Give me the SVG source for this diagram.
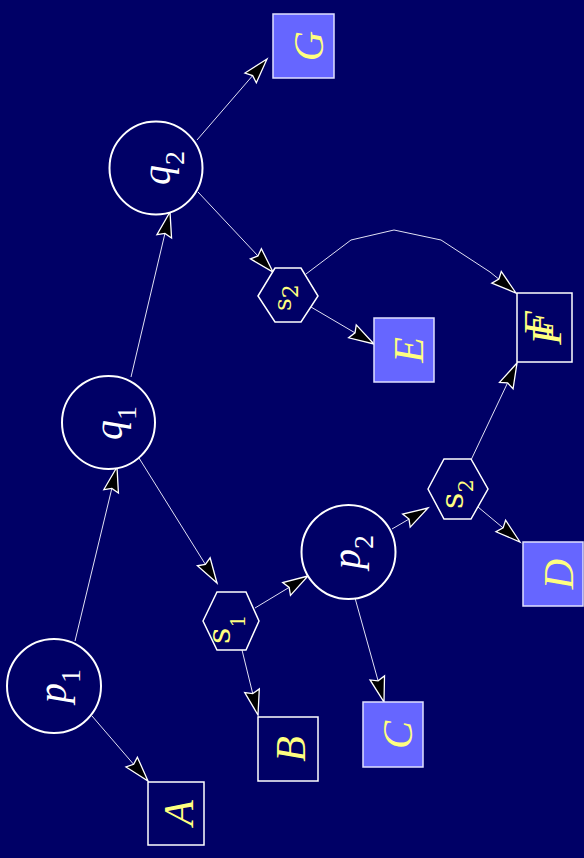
<svg xmlns="http://www.w3.org/2000/svg" width="584" height="858" viewBox="0 0 584 858">
<style>
.bg{fill:#000066}
.edge{fill:none;stroke:#e0e0f4;stroke-width:1}
.circ{fill:#000066;stroke:#ffffff;stroke-width:2}
.hex{fill:#000066;stroke:#ffffff;stroke-width:1.5}
.box{fill:#000066;stroke:#ffffff;stroke-width:1.5}
.boxf{fill:#6666ff;stroke:#e0e0ff;stroke-width:1.5}
.lab{font-family:"Liberation Serif",serif;font-style:italic;font-size:42px;fill:#ffff80;text-anchor:middle}
.math{font-family:"Liberation Serif",serif;font-size:40px;fill:#ffffff;text-anchor:middle}
.math .v{font-style:italic}
.sl{font-family:"DejaVu Serif",serif;fill:#ffff80}
</style>
<defs>
<marker id="ah" markerUnits="userSpaceOnUse" orient="auto" markerWidth="40" markerHeight="30" refX="30" refY="15" overflow="visible">
<path d="M30,15 L5,7.5 L8,15 L5,22.5 Z" fill="#000000" stroke="#ffffff" stroke-width="1.3" stroke-linejoin="miter"/>
</marker>
</defs>
<rect class="bg" x="0" y="0" width="584" height="858"/>

<g id="connectors">
<line class="edge" x1="92" y1="716" x2="148" y2="781" marker-end="url(#ah)"/>
<line class="edge" x1="75" y1="641" x2="117" y2="467" marker-end="url(#ah)"/>
<line class="edge" x1="131" y1="377" x2="170" y2="212" marker-end="url(#ah)"/>
<line class="edge" x1="197" y1="140" x2="267" y2="59" marker-end="url(#ah)"/>
<line class="edge" x1="198" y1="192" x2="273" y2="272" marker-end="url(#ah)"/>
<line class="edge" x1="311" y1="307" x2="374" y2="344" marker-end="url(#ah)"/>
<polyline class="edge" points="306,274 351,240 394,230 441,240 490,272 516,293" marker-end="url(#ah)"/>
<line class="edge" x1="139" y1="458" x2="217" y2="583" marker-end="url(#ah)"/>
<line class="edge" x1="255" y1="608" x2="308" y2="576" marker-end="url(#ah)"/>
<line class="edge" x1="242" y1="650" x2="258" y2="715" marker-end="url(#ah)"/>
<line class="edge" x1="355" y1="598" x2="384" y2="702" marker-end="url(#ah)"/>
<line class="edge" x1="392" y1="529" x2="428" y2="508" marker-end="url(#ah)"/>
<line class="edge" x1="478" y1="507" x2="520" y2="542" marker-end="url(#ah)"/>
<line class="edge" x1="471" y1="460" x2="517" y2="363" marker-end="url(#ah)"/>
</g>

<g id="p1">
<circle class="circ" cx="54" cy="686" r="47"/>
<text class="math" transform="translate(66,686) rotate(-90)"><tspan class="v">p</tspan><tspan font-size="28" dy="14">1</tspan></text>
</g>
<g id="q1">
<circle class="circ" cx="108.5" cy="422.5" r="46.5"/>
<text class="math" transform="translate(122,423) rotate(-90)"><tspan class="v">q</tspan><tspan font-size="28" dy="14">1</tspan></text>
</g>
<g id="q2">
<circle class="circ" cx="156" cy="168" r="46.5"/>
<text class="math" transform="translate(170,168) rotate(-90)"><tspan class="v">q</tspan><tspan font-size="28" dy="14">2</tspan></text>
</g>
<g id="p2">
<circle class="circ" cx="348.5" cy="552" r="47"/>
<text class="math" transform="translate(360,552) rotate(-90)"><tspan class="v">p</tspan><tspan font-size="28" dy="13">2</tspan></text>
</g>

<g id="s1">
<polygon class="hex" points="203,621 217,592 246,592 259,621 246,650 217,650"/>
<text class="sl" transform="translate(230,644) rotate(-90)"><tspan font-size="32">s</tspan><tspan font-size="20" dy="15">1</tspan></text>
</g>
<g id="s2a">
<polygon class="hex" points="258,296 275,268 301,268 318,296 301,322 275,322"/>
<text class="sl" transform="translate(291,311) rotate(-90)"><tspan font-size="25">s</tspan><tspan font-size="22" dy="7">2</tspan></text>
</g>
<g id="s2b">
<polygon class="hex" points="428,489 444,459 471,459 488,489 471,519 444,519"/>
<text class="sl" transform="translate(463,509) rotate(-90)"><tspan font-size="32">s</tspan><tspan font-size="21" dy="10">2</tspan></text>
</g>

<g id="A">
<rect class="box" x="148" y="782" width="56" height="63"/>
<text class="lab" transform="translate(193,813) rotate(-90)">A</text>
</g>
<g id="B">
<rect class="box" x="258" y="717" width="60" height="64"/>
<text class="lab" transform="translate(305,749) rotate(-90)">B</text>
</g>
<g id="C">
<rect class="boxf" x="363" y="702" width="60" height="65"/>
<text class="lab" transform="translate(412,735) rotate(-90)">C</text>
</g>
<g id="D">
<rect class="boxf" x="523" y="542" width="60" height="64"/>
<text class="lab" transform="translate(573,574) rotate(-90)">D</text>
</g>
<g id="E">
<rect class="boxf" x="374" y="318" width="60" height="64"/>
<text class="lab" transform="translate(423,350) rotate(-90)">E</text>
</g>
<g id="F">
<rect class="box" x="517" y="293" width="55" height="69"/>
<text class="lab" transform="translate(553,324) rotate(-90)">F</text>
<text class="lab" transform="translate(561,332) rotate(-90)">F</text>
</g>
<g id="G">
<rect class="boxf" x="273" y="14" width="61" height="64"/>
<text class="lab" transform="translate(323,46) rotate(-90)">G</text>
</g>
</svg>
